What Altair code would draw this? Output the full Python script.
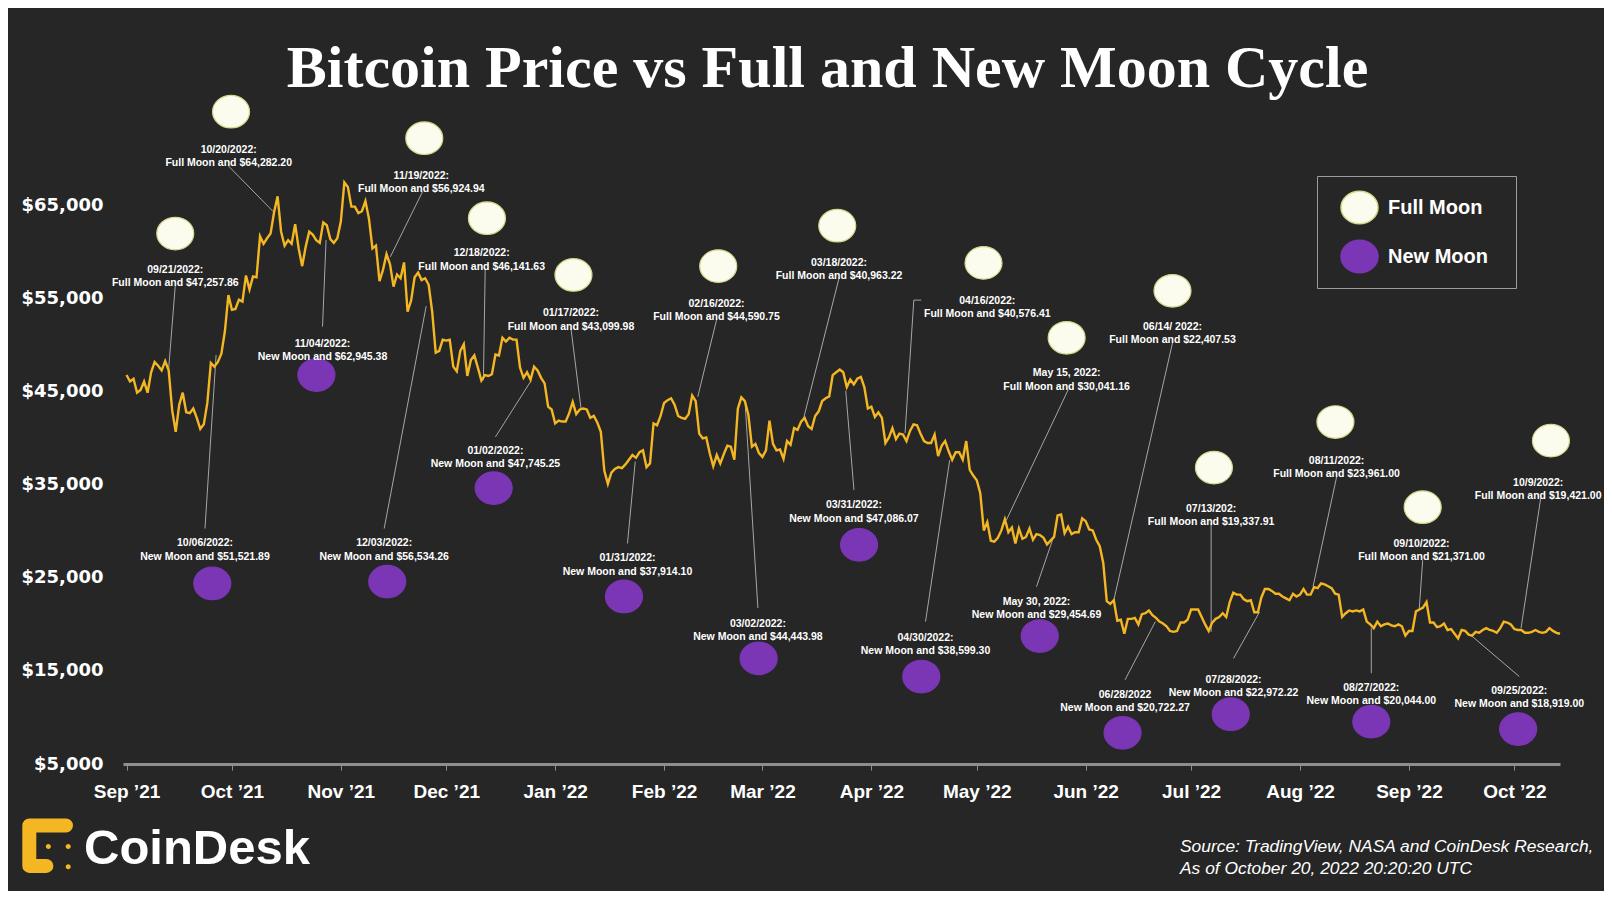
import altair as alt
import pandas as pd

# ---------------- colours ----------------
BG = "#262626"
GOLD = "#F4B723"
FULL = "#FBFBEE"
FULL_EDGE = "#D4D88A"
NEW = "#7B36B6"
LEADER = "#A6A6A6"
AXIS = "#8E8E8E"

# ---------------- price series (daily, starting at START) ----------------
START = "2021-09-01"
seg01 = [46.8, 46.1, 46.4, 44.9, 45.2, 46.1, 44.9, 47.1, 48.2, 47.8, 47.3, 48.3, 47.3, 43.0, 40.7,
         43.6, 44.9, 42.8, 42.7, 43.2, 42.2, 41.0, 41.5, 43.8]
seg02 = [48.1, 47.7, 48.2, 49.1, 51.5, 55.4, 53.8, 53.9, 54.9, 54.7, 57.5, 56.0, 57.4, 57.3, 61.7,
         60.9, 61.5, 62.0, 64.3, 66.0, 62.2, 60.7, 61.3, 60.9, 63.0, 60.4, 58.5, 60.6, 62.2, 61.9, 61.3]
seg03 = [61.0, 63.2, 62.9, 61.4, 61.0, 61.5, 63.3, 67.5, 67.0, 64.9, 64.9, 64.2, 64.4, 65.5, 63.6,
         60.4, 60.7, 56.9, 58.1, 59.8, 58.7, 56.3, 57.6, 57.2, 58.9, 53.6, 54.8, 57.3, 57.8, 57.0]
seg04 = [57.2, 56.5, 53.6, 49.2, 49.4, 50.6, 50.5, 50.6, 47.7, 47.2, 49.4, 50.1, 46.7, 48.4, 48.9,
         47.6, 46.2, 46.8, 46.7, 46.9, 49.0, 48.9, 50.8, 50.4, 50.8, 50.6, 50.6, 47.6, 46.5, 47.1, 46.3]
seg05 = [47.7, 47.3, 46.5, 45.9, 43.4, 43.1, 41.6, 41.9, 41.8, 41.8, 42.7, 43.9, 42.6, 43.1, 43.2,
         43.1, 42.2, 42.4, 41.7, 40.7, 36.5, 35.1, 36.3, 36.7, 36.9, 36.8, 37.2, 37.7, 38.2, 37.9, 38.5]
seg06 = [38.7, 36.9, 37.3, 41.6, 41.4, 42.4, 43.8, 44.1, 44.3, 43.6, 42.4, 42.2, 42.1, 42.6, 44.6,
         44.0, 40.5, 40.0, 40.1, 38.4, 37.0, 38.2, 37.3, 38.3, 39.2, 39.1, 37.7, 43.2]
seg07 = [44.4, 44.0, 42.5, 39.1, 39.4, 38.4, 38.0, 38.7, 41.9, 39.4, 38.7, 38.8, 37.8, 39.7, 39.3,
         41.1, 40.9, 41.8, 42.2, 41.3, 41.0, 42.4, 42.9, 44.0, 44.3, 44.5, 46.8, 47.1, 47.4, 47.1, 45.5]
seg08 = [46.3, 45.8, 46.4, 46.6, 45.5, 43.2, 43.4, 42.3, 42.8, 42.2, 39.5, 40.1, 41.1, 39.9, 40.5,
         40.4, 39.7, 40.8, 41.5, 41.4, 40.5, 39.7, 39.5, 39.5, 40.4, 38.1, 39.2, 39.7, 38.6, 37.7]
seg09 = [38.5, 38.5, 37.7, 39.7, 36.6, 36.0, 35.5, 34.1, 30.1, 31.0, 29.0, 28.9, 29.3, 30.1, 31.3,
         29.9, 30.4, 28.7, 30.3, 29.2, 29.4, 30.3, 29.1, 29.7, 29.6, 29.3, 28.6, 29.0, 29.4, 31.7, 31.8]
seg10 = [29.8, 30.5, 29.7, 29.9, 29.9, 31.4, 31.1, 30.2, 30.1, 29.1, 28.4, 26.6, 22.5, 22.2, 22.6,
         20.4, 20.5, 19.0, 20.6, 20.6, 20.7, 20.0, 21.1, 21.2, 21.5, 21.0, 20.7, 20.3, 20.1, 19.8]
seg11 = [19.3, 19.2, 19.3, 20.2, 20.2, 20.5, 21.6, 21.6, 21.6, 20.8, 20.0, 19.3, 20.2, 20.6, 20.8,
         21.2, 20.8, 22.4, 23.4, 23.2, 23.2, 22.7, 22.5, 22.6, 21.3, 21.3, 22.9, 23.8, 23.8, 23.6, 23.3]
seg12 = [23.3, 23.0, 22.8, 22.6, 23.3, 23.0, 23.2, 23.8, 23.2, 23.2, 24.0, 23.9, 24.4, 24.3, 24.1,
         23.9, 23.3, 23.2, 20.8, 21.2, 21.5, 21.4, 21.5, 21.4, 21.6, 20.3, 20.0, 19.6, 20.3, 19.8, 20.0]
seg13 = [20.1, 19.9, 19.8, 20.0, 19.8, 18.8, 19.3, 19.3, 21.4, 21.6, 21.8, 22.4, 20.2, 20.2, 19.7,
         19.8, 20.1, 19.4, 19.5, 19.0, 18.5, 19.4, 19.3, 18.9, 18.8, 19.2, 19.1, 19.4, 19.6, 19.4]
seg14 = [19.3, 19.1, 19.6, 20.3, 20.2, 20.0, 19.5, 19.4, 19.4, 19.1, 19.1, 19.2, 19.4, 19.2, 19.1,
         19.2, 19.6, 19.3, 19.1, 19.0]

prices_k = (seg01 + seg02 + seg03 + seg04 + seg05 + seg06 + seg07 + seg08 + seg09 + seg10
            + seg11 + seg12 + seg13 + seg14)
dates = pd.date_range(START, periods=len(prices_k), freq="D").strftime("%Y-%m-%dT00:00Z")
line_df = pd.DataFrame({"date": list(dates), "price": [v * 1000 for v in prices_k]})

# ---------------- full moons ----------------
fm_line1 = ["09/21/2022:", "10/20/2022:", "11/19/2022:", "12/18/2022:", "01/17/2022:", "02/16/2022:",
            "03/18/2022:", "04/16/2022:", "May 15, 2022:", "06/14/ 2022:", "07/13/202:", "08/11/2022:",
            "09/10/2022:", "10/9/2022:"]
fm_line2 = ["Full Moon and $47,257.86", "Full Moon and $64,282.20", "Full Moon and $56,924.94",
            "Full Moon and $46,141.63", "Full Moon and $43,099.98", "Full Moon and $44,590.75",
            "Full Moon and $40,963.22", "Full Moon and $40,576.41", "Full Moon and $30,041.16",
            "Full Moon and $22,407.53", "Full Moon and  $19,337.91", "Full Moon and $23,961.00",
            "Full Moon and $21,371.00", "Full Moon and $19,421.00"]
fm_circle_date = ["2021-09-14T21:00Z", "2021-09-30T18:00Z", "2021-11-24T18:00Z", "2021-12-12T14:00Z",
                  "2022-01-06T05:00Z", "2022-02-16T10:00Z", "2022-03-22T07:00Z", "2022-05-02T22:00Z",
                  "2022-05-26T14:00Z", "2022-06-25T17:00Z", "2022-07-07T12:00Z", "2022-08-11T02:00Z",
                  "2022-09-04T22:00Z", "2022-10-11T10:00Z"]
fm_circle_price = [62000, 75100, 72250, 63650, 57550, 58500, 62850, 58850, 50800, 55850, 36850, 41750,
                   32600, 39750]
fm_label_date = ["2021-09-14T21:00Z", "2021-09-30T02:00Z", "2021-11-23T22:00Z", "2021-12-11T02:00Z",
                 "2022-01-05T12:00Z", "2022-02-15T22:00Z", "2022-03-22T19:00Z", "2022-05-04T00:00Z",
                 "2022-05-26T14:00Z", "2022-06-25T17:00Z", "2022-07-06T17:00Z", "2022-08-11T10:00Z",
                 "2022-09-04T14:00Z", "2022-10-07T19:00Z"]
fm_label_price = [58100, 71000, 68200, 59900, 53450, 54450, 58850, 54800, 47000, 52000, 32450, 37600,
                  28650, 35250]

# ---------------- new moons ----------------
nm_line1 = ["10/06/2022:", "11/04/2022:", "12/03/2022:", "01/02/2022:", "01/31/2022:", "03/02/2022:",
            "03/31/2022:", "04/30/2022:", "May 30, 2022:", "06/28/2022", "07/28/2022:", "08/27/2022:",
            "09/25/2022:"]
nm_line2 = ["New Moon and $51,521.89", "New Moon and $62,945.38", "New Moon and $56,534.26",
            "New Moon and $47,745.25", "New Moon and $37,914.10", "New Moon and $44,443.98",
            "New Moon and $47,086.07", "New Moon and $38,599.30", "New Moon and $29,454.69",
            "New Moon and $20,722.27", "New Moon and  $22,972.22", "New Moon and $20,044.00",
            "New Moon and $18,919.00"]
nm_circle_date = ["2021-09-25T10:00Z", "2021-10-25T01:00Z", "2021-11-14T05:00Z", "2021-12-14T12:00Z",
                  "2022-01-20T14:00Z", "2022-02-27T22:00Z", "2022-03-28T12:00Z", "2022-04-15T05:00Z",
                  "2022-05-18T22:00Z", "2022-06-11T12:00Z", "2022-07-12T07:00Z", "2022-08-21T07:00Z",
                  "2022-10-02T02:00Z"]
nm_circle_price = [24400, 46800, 24600, 34650, 23000, 16350, 28550, 14400, 18750, 8350, 10350, 9550, 8750]
nm_label_date = ["2021-09-23T08:00Z", "2021-10-26T19:00Z", "2021-11-13T08:00Z", "2021-12-15T00:00Z",
                 "2022-01-21T14:00Z", "2022-02-27T17:00Z", "2022-03-27T01:00Z", "2022-04-16T10:00Z",
                 "2022-05-18T00:00Z", "2022-06-12T05:00Z", "2022-07-13T02:00Z", "2022-08-21T07:00Z",
                 "2022-10-02T10:00Z"]
nm_label_price = [28700, 50150, 28700, 38650, 27100, 20050, 32800, 18550, 22400, 12450, 14050, 13200, 12850]

# ---------------- leader lines (label -> price line) ----------------
leaders = [
    [("2021-09-14T21:00Z", 56400), ("2021-09-12T22:00Z", 47100)],
    [("2021-09-30T01:00Z", 69250), ("2021-10-12T19:00Z", 64350)],
    [("2021-11-24T06:00Z", 66500), ("2021-11-15T02:00Z", 59500)],
    [("2021-10-26T19:00Z", 52000), ("2021-10-27T19:00Z", 61300)],
    [("2021-12-12T02:00Z", 58100), ("2021-12-11T14:00Z", 46250)],
    [("2022-01-05T12:00Z", 51800), ("2022-01-08T10:00Z", 43050)],
    [("2022-02-15T22:00Z", 52700), ("2022-02-10T14:00Z", 44450)],
    [("2022-03-22T19:00Z", 57200), ("2022-03-12T14:00Z", 41950)],
    [("2022-04-15T05:00Z", 54850), ("2022-04-13T02:00Z", 54850), ("2022-04-10T14:00Z", 40550)],
    [("2022-05-27T00:00Z", 45200), ("2022-05-09T10:00Z", 31200)],
    [("2022-06-25T17:00Z", 50250), ("2022-06-08T22:00Z", 22450)],
    [("2022-07-06T17:00Z", 30850), ("2022-07-06T17:00Z", 19200)],
    [("2022-08-11T10:00Z", 35850), ("2022-08-04T17:00Z", 24050)],
    [("2022-09-04T22:00Z", 26900), ("2022-09-03T22:00Z", 21550)],
    [("2022-10-08T12:00Z", 33550), ("2022-10-02T22:00Z", 19600)],
    [("2021-09-23T08:00Z", 30300), ("2021-09-26T12:00Z", 48950)],
    [("2021-11-13T08:00Z", 30300), ("2021-11-25T07:00Z", 54200)],
    [("2021-12-15T00:00Z", 40150), ("2021-12-25T00:00Z", 46100)],
    [("2022-01-21T14:00Z", 28700), ("2022-01-23T19:00Z", 37500)],
    [("2022-02-27T17:00Z", 21750), ("2022-02-24T02:00Z", 43700)],
    [("2022-03-27T01:00Z", 34450), ("2022-03-24T17:00Z", 45100)],
    [("2022-04-16T10:00Z", 20300), ("2022-04-23T07:00Z", 37650)],
    [("2022-05-18T00:00Z", 24050), ("2022-05-22T14:00Z", 29100)],
    [("2022-06-12T05:00Z", 14050), ("2022-06-20T20:00Z", 20300)],
    [("2022-07-13T02:00Z", 16350), ("2022-07-20T12:00Z", 21350)],
    [("2022-08-21T07:00Z", 14750), ("2022-08-21T07:00Z", 19600)],
    [("2022-10-02T10:00Z", 14400), ("2022-09-18T14:00Z", 18850)],
]

y_ticks = [5000, 15000, 25000, 35000, 45000, 55000, 65000]
title_text = "Bitcoin Price vs Full and New Moon Cycle"
brand_text = "CoinDesk"
source_text = "Source: TradingView,  NASA and CoinDesk Research,\nAs of October 20, 2022 20:20:20 UTC"

# ---------------- frames ----------------
moons_df = pd.DataFrame({
    "kind": ["Full Moon"] * len(fm_circle_date) + ["New Moon"] * len(nm_circle_date),
    "date": fm_circle_date + nm_circle_date,
    "price": fm_circle_price + nm_circle_price,
})
labels_df = pd.DataFrame({
    "text": [a + "\n" + b for a, b in zip(fm_line1 + nm_line1, fm_line2 + nm_line2)],
    "date": fm_label_date + nm_label_date,
    "price": fm_label_price + nm_label_price,
})
rows = []
for i, pts in enumerate(leaders):
    for j, (d, p) in enumerate(pts):
        rows.append({"id": i, "seq": j, "date": d, "price": p})
leaders_df = pd.DataFrame(rows)

# ---------------- scales / axes ----------------
xscale = alt.Scale(type="utc",
                   domain=[alt.DateTime(year=2021, month=8, date=31, utc=True),
                           alt.DateTime(year=2022, month=10, date=14, utc=True)])
yscale = alt.Scale(domain=[5000, 77000], nice=False, zero=False)
xaxis = alt.Axis(title=None, tickCount={"interval": "month", "step": 1},
                 labelExpr="utcFormat(datum.value, \"%b \u2019%y\")",
                 labelFont="Liberation Sans", labelFontSize=19, labelFontWeight="bold",
                 labelColor="white", labelPadding=12, labelFlush=False, labelOverlap=False,
                 domainColor=AXIS, domainWidth=3, tickColor=AXIS, tickSize=6, tickWidth=1,
                 grid=False)
yaxis = alt.Axis(title=None, values=y_ticks, format="$,.0f", labelFont="DejaVu Sans",
                 labelFontSize=18, labelFontWeight="bold", labelColor="white",
                 labelPadding=20, ticks=False, domain=False, grid=False)

X = alt.X("date:T", scale=xscale, axis=xaxis)
Y = alt.Y("price:Q", scale=yscale, axis=yaxis)

ELLIPSE = "M-1,0A1,0.88,0,1,1,1,0A1,0.88,0,1,1,-1,0Z"

price_line = alt.Chart(line_df).mark_line(color=GOLD, strokeWidth=2.4).encode(x=X, y=Y)

leader_lines = alt.Chart(leaders_df).mark_line(color=LEADER, strokeWidth=1).encode(
    x=X, y=Y, detail="id:N", order="seq:O")

moons = alt.Chart(moons_df).mark_point(filled=True, shape=ELLIPSE, size=1369, opacity=1,
                                       strokeWidth=1.2).encode(
    x=X, y=Y,
    color=alt.Color("kind:N",
                    scale=alt.Scale(domain=["Full Moon", "New Moon"], range=[FULL, NEW]),
                    legend=alt.Legend(title="\u00b7", titleColor=BG, titleFontSize=4,
                                      titleOrient="right", titlePadding=14,
                                      orient="none", legendX=1194, legendY=82,
                                      direction="vertical", symbolType=ELLIPSE, symbolSize=1369,
                                      labelFont="Liberation Sans", labelFontSize=20,
                                      labelFontWeight="bold", labelColor="white",
                                      strokeColor="#9C9C9C", padding=12, symbolOffset=11,
                                      labelOffset=9, rowPadding=10, symbolOpacity=1)),
    stroke=alt.Stroke("kind:N",
                      scale=alt.Scale(domain=["Full Moon", "New Moon"], range=[FULL_EDGE, NEW]),
                      legend=None),
)

labels = alt.Chart(labels_df).mark_text(font="Liberation Sans", fontSize=10.5, fontWeight="bold",
                                        color="white", lineBreak="\n", lineHeight=13.4,
                                        align="center", baseline="middle").encode(
    x=X, y=Y, text="text:N")

one = pd.DataFrame({"t": [brand_text]})
brand = alt.Chart(one).mark_text(font="Liberation Sans", fontSize=49, fontWeight="bold",
                                 color="white", align="left", baseline="alphabetic").encode(
    x=alt.value(-39), y=alt.value(770), text="t:N")

src = pd.DataFrame({"t": [source_text]})
source = alt.Chart(src).mark_text(font="Liberation Sans", fontSize=17.4, fontStyle="italic",
                                  color="white", align="left", baseline="alphabetic",
                                  lineBreak="\n", lineHeight=22).encode(
    x=alt.value(1057), y=alt.value(758), text="t:N")

LOGO_C = "M0.66,-0.73L-0.65,-0.73L-0.65,0.71L-0.04,0.71"
LOGO_DOTS = ("M-0.06,0.02A0.09,0.09,0,1,1,0.12,0.02A0.09,0.09,0,1,1,-0.06,0.02Z"
             "M0.65,0.02A0.09,0.09,0,1,1,0.83,0.02A0.09,0.09,0,1,1,0.65,0.02Z"
             "M0.65,0.74A0.09,0.09,0,1,1,0.83,0.74A0.09,0.09,0,1,1,0.65,0.74Z")
logo_c = alt.Chart(one).mark_point(shape=LOGO_C, filled=False, size=3136, strokeWidth=14,
                                   strokeCap="round", strokeJoin="round", color=GOLD,
                                   opacity=1).encode(x=alt.value(-75.5), y=alt.value(752))
logo_dots = alt.Chart(one).mark_point(shape=LOGO_DOTS, filled=True, size=3136, color=GOLD,
                                      opacity=1).encode(x=alt.value(-75.5), y=alt.value(752))

chart = alt.layer(leader_lines, price_line, moons, labels, brand, source, logo_c, logo_dots).properties(
    width=1437, height=670,
    padding={"left": 115, "top": 86, "right": 44, "bottom": 127},
    autosize=alt.AutoSizeParams(type="none"),
    background=BG,
    title=alt.TitleParams(text=title_text, font="Liberation Serif", fontSize=60, fontWeight="bold",
                          color="white", anchor="middle", frame="group", offset=-54,
                          baseline="alphabetic", dx=-14),
).configure_view(strokeWidth=0)

chart.save("out.html", embed_options={"renderer": "svg", "actions": False})
